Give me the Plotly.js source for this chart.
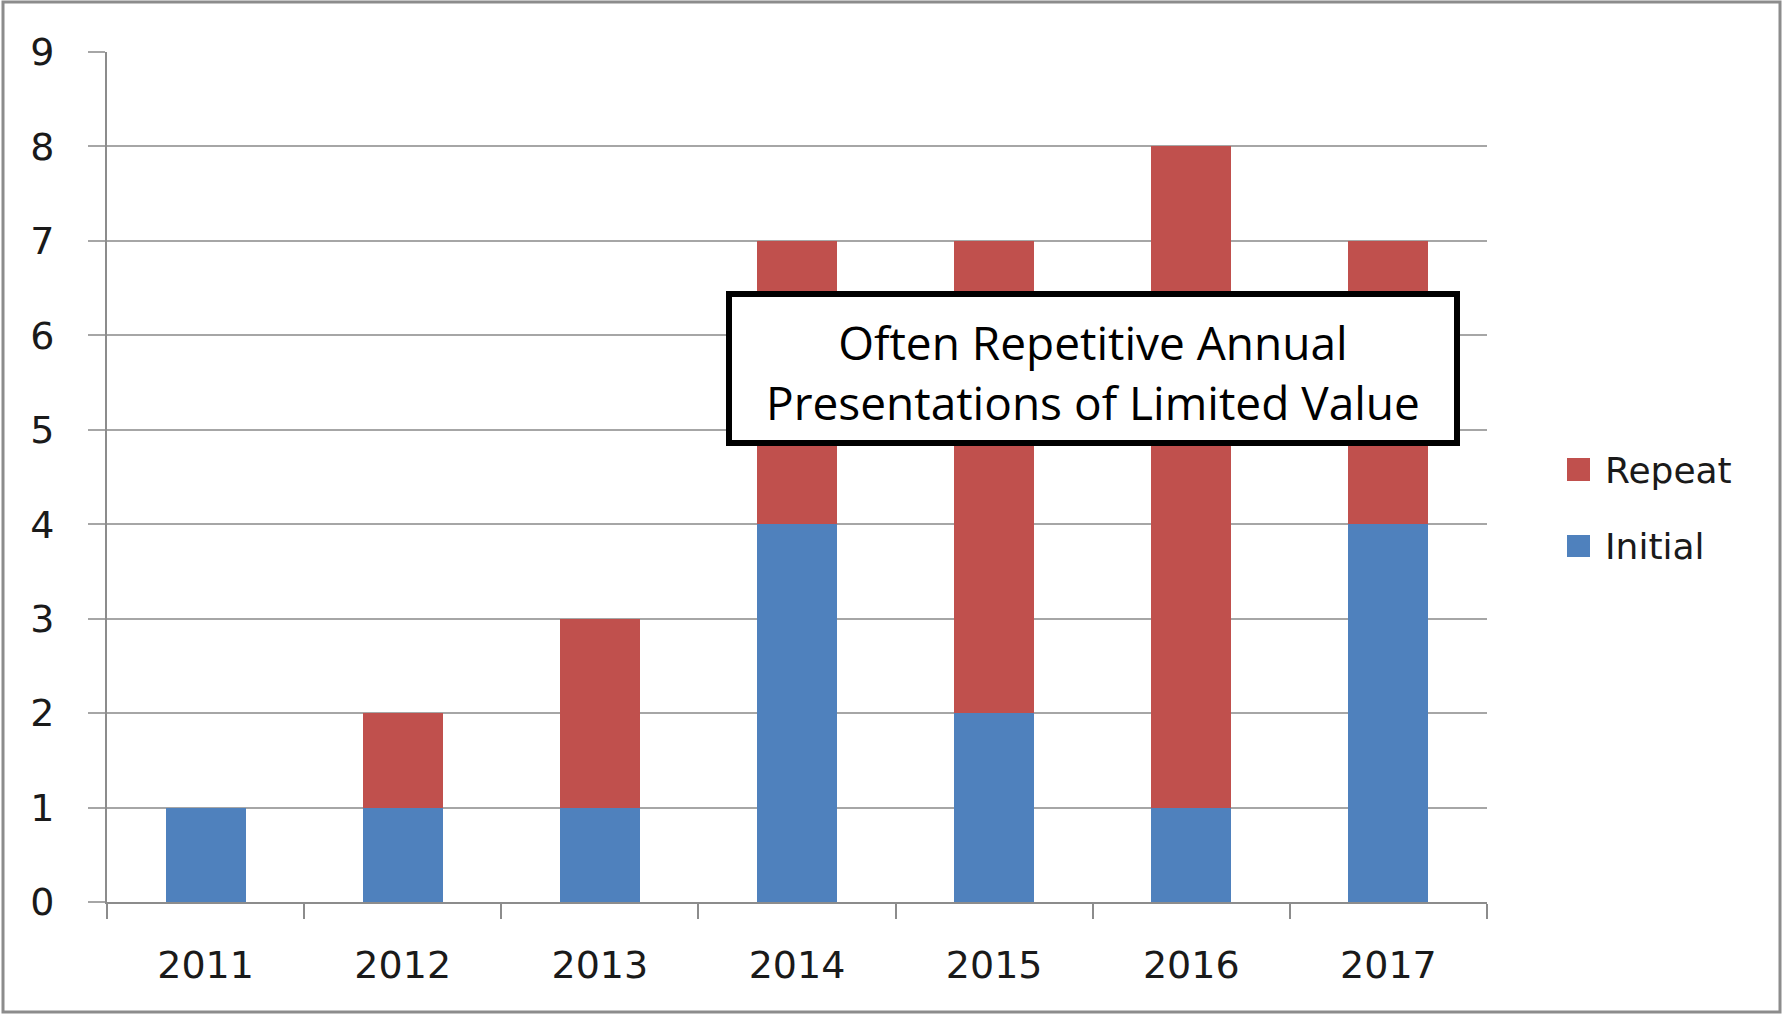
<!DOCTYPE html>
<html>
<head>
<meta charset="utf-8">
<script src="https://cdn.plot.ly/plotly-3.0.1.min.js"></script>
<style>html,body{margin:0;padding:0;background:#fff;}#chart{width:1783px;height:1015px;}</style>
</head>
<body>
<div id="chart"></div>
<script>
const years = ['2011', '2012', '2013', '2014', '2015', '2016', '2017'];
const initialValues = [1, 1, 1, 4, 2, 1, 4];
const repeatValues = [0, 1, 2, 3, 5, 7, 3];
const seriesNames = ['Initial', 'Repeat'];
const yTicks = [0, 1, 2, 3, 4, 5, 6, 7, 8, 9];
const boxLines = ['Often Repetitive Annual', 'Presentations of Limited Value'];

const blue = '#4F81BD', red = '#C0504D';
const tickFont = {family: 'DejaVu Sans, sans-serif', size: 38, color: '#1a1a1a'};

const data = [
  {type: 'bar', x: years, y: initialValues, name: seriesNames[0], marker: {color: blue, line: {width: 0}}, showlegend: false, hoverinfo: 'x+y+name'},
  {type: 'bar', x: years, y: repeatValues, name: seriesNames[1], marker: {color: red, line: {width: 0}}, showlegend: false, hoverinfo: 'x+y+name'}
];

// pixel -> paper helpers (plot area: x 107..1487, y 52..902)
const L = 107, R = 1487, T = 52, B = 902;
const px = v => (v - L) / (R - L);
const py = v => (B - v) / (B - T);

const shapes = [
  // outer frame
  {type: 'rect', xref: 'paper', yref: 'paper', x0: px(3), x1: px(1780), y0: py(1012), y1: py(2), line: {color: '#8c8c8c', width: 3}, layer: 'below'},
  // annotation box
  {type: 'rect', xref: 'paper', yref: 'paper', x0: px(729), x1: px(1457), y0: py(443), y1: py(294), line: {color: '#000', width: 6}, fillcolor: '#fff', layer: 'above'},
  // legend squares
  {type: 'rect', xref: 'paper', yref: 'paper', x0: px(1567), x1: px(1590), y0: py(481), y1: py(458), line: {width: 0}, fillcolor: red, layer: 'above'},
  {type: 'rect', xref: 'paper', yref: 'paper', x0: px(1567), x1: px(1590), y0: py(557), y1: py(535), line: {width: 0}, fillcolor: blue, layer: 'above'}
];

const annotations = [
  {xref: 'paper', yref: 'paper', x: px(1093), y: py(372), xanchor: 'center', yanchor: 'middle', showarrow: false,
   text: boxLines.join('<br>'), align: 'center',
   font: {family: 'Open Sans, Noto Sans, sans-serif', size: 46, color: '#000'}},
  {xref: 'paper', yref: 'paper', x: px(1603), y: py(470), xanchor: 'left', yanchor: 'middle', showarrow: false,
   text: seriesNames[1], font: {family: 'DejaVu Sans, sans-serif', size: 36, color: '#1a1a1a'}},
  {xref: 'paper', yref: 'paper', x: px(1603), y: py(546), xanchor: 'left', yanchor: 'middle', showarrow: false,
   text: seriesNames[0], font: {family: 'DejaVu Sans, sans-serif', size: 36, color: '#1a1a1a'}}
];

const layout = {
  width: 1783, height: 1015,
  margin: {l: L, r: 1783 - R, t: T, b: 1015 - B, pad: 0},
  paper_bgcolor: '#fff', plot_bgcolor: '#fff',
  barmode: 'stack', bargap: 0.594,
  showlegend: false,
  xaxis: {
    type: 'category', categoryorder: 'array', categoryarray: years,
    showline: true, linecolor: '#8c8c8c', linewidth: 2,
    ticks: 'outside', ticklen: 15, tickwidth: 2, tickcolor: '#8c8c8c', tickson: 'boundaries',
    tickfont: tickFont, ticklabelstandoff: 28, showgrid: false, zeroline: false, fixedrange: true
  },
  yaxis: {
    range: [0, 9], tickvals: yTicks, ticktext: yTicks.map(String),
    showline: true, linecolor: '#8c8c8c', linewidth: 2,
    ticks: 'outside', ticklen: 17, tickwidth: 2, tickcolor: '#a6a6a6',
    showgrid: true, gridcolor: '#a6a6a6', gridwidth: 2, zeroline: false,
    tickfont: tickFont, ticklabelstandoff: 26, fixedrange: true
  },
  shapes: shapes,
  annotations: annotations
};

Plotly.newPlot('chart', data, layout, {displayModeBar: false, staticPlot: true});
</script>
</body>
</html>
